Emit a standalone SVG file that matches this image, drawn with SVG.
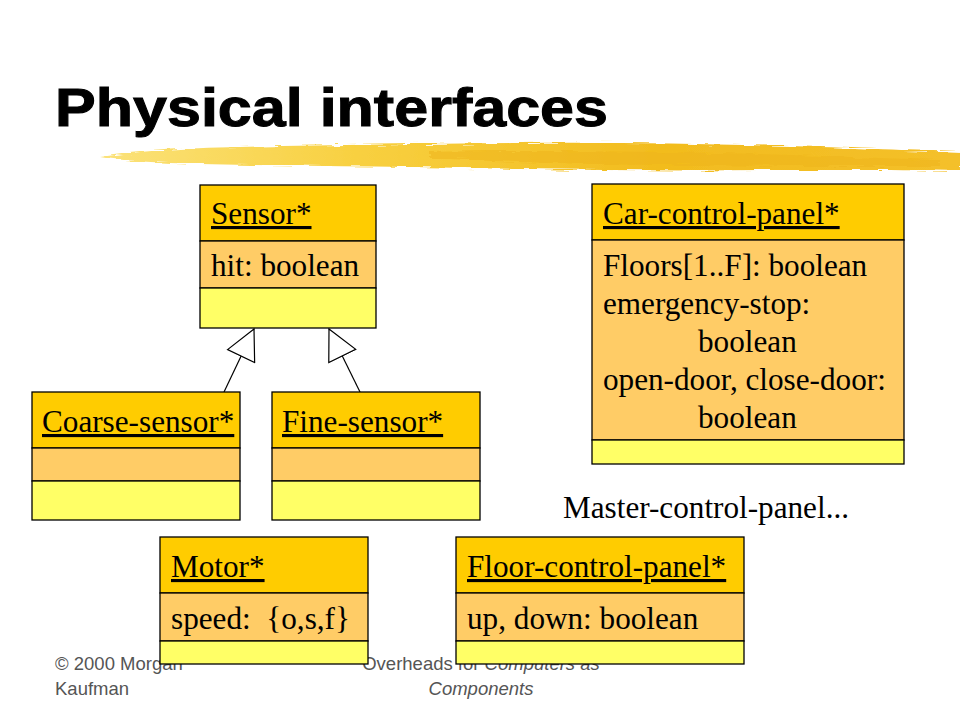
<svg xmlns="http://www.w3.org/2000/svg" width="960" height="720" viewBox="0 0 960 720">
<defs>
<style>
.hd{fill:#FFCC00;stroke:#000;stroke-width:1.3}
.at{fill:#FFCC66;stroke:#000;stroke-width:1.3}
.op{fill:#FFFF66;stroke:#000;stroke-width:1.3}
.t{font-family:"Liberation Serif","Times New Roman",serif;font-size:31.2px;fill:#000}
.u{text-decoration:underline}
.ft{font-family:"Liberation Sans",Arial,sans-serif;font-size:18.5px;fill:#555}
.cn{fill:none;stroke:#000;stroke-width:1.2}
</style>
<linearGradient id="brush" x1="0" y1="0" x2="1" y2="0">
<stop offset="0" stop-color="#FBE27A"/>
<stop offset="0.3" stop-color="#F8D040"/>
<stop offset="0.65" stop-color="#F2BC1E"/>
<stop offset="1" stop-color="#F4C02A"/>
</linearGradient>
<filter id="rough" x="-2%" y="-50%" width="104%" height="200%">
<feTurbulence type="fractalNoise" baseFrequency="0.04 0.6" numOctaves="2" seed="3" result="n"/>
<feDisplacementMap in="SourceGraphic" in2="n" scale="6"/>
</filter>
<marker id="gen" markerUnits="userSpaceOnUse" markerWidth="32" markerHeight="32" viewBox="0 0 32 32" refX="31" refY="16" orient="auto">
<path d="M1,1 L31,16 L1,31 Z" fill="#fff" stroke="#000" stroke-width="1.2"/>
</marker>
</defs>
<rect width="960" height="720" fill="#fff"/>
<g id="title">
<text x="55" y="126" font-family="Liberation Sans,Arial,sans-serif" font-weight="bold" font-size="53" textLength="553" lengthAdjust="spacingAndGlyphs" stroke="#000" stroke-width="1">Physical interfaces</text>
<path filter="url(#rough)" fill="url(#brush)" d="M100,157 C140,151 180,148 240,147 C330,145 420,144 520,143 C620,142 720,144 820,147 C880,149 930,151 960,152 L960,171 C900,170 840,170 760,170 C680,171 600,170 520,169 C420,167 330,166 250,165 C180,164 130,162 100,157 Z"/>
<path filter="url(#rough)" fill="#EFB51A" opacity="0.55" d="M430,152 C520,150 640,151 760,154 C820,156 880,158 940,160 L940,166 C860,166 760,166 660,165 C580,164 500,162 430,158 Z"/>
</g>
<g id="footer">
<text class="ft" x="55" y="670">© 2000 Morgan</text>
<text class="ft" x="55" y="695">Kaufman</text>
<text class="ft" x="481" y="670" text-anchor="middle">Overheads for <tspan font-style="italic">Computers as</tspan></text>
<text class="ft" x="481" y="695" text-anchor="middle" font-style="italic">Components</text>
</g>
<g id="connectors">
<path class="cn" d="M224,392 L254,329" marker-end="url(#gen)"/>
<path class="cn" d="M360,392 L329,329" marker-end="url(#gen)"/>
</g>
<g id="sensor">
<rect class="hd" x="200" y="185" width="176" height="56"/>
<rect class="at" x="200" y="241" width="176" height="47"/>
<rect class="op" x="200" y="288" width="176" height="40"/>
<text class="t u" x="211" y="224">Sensor*</text>
<text class="t" x="211" y="276">hit: boolean</text>
</g>
<g id="coarse-sensor">
<rect class="hd" x="32" y="392" width="208" height="56"/>
<rect class="at" x="32" y="448" width="208" height="33"/>
<rect class="op" x="32" y="481" width="208" height="39"/>
<text class="t u" x="42" y="432">Coarse-sensor*</text>
</g>
<g id="fine-sensor">
<rect class="hd" x="272" y="392" width="208" height="56"/>
<rect class="at" x="272" y="448" width="208" height="33"/>
<rect class="op" x="272" y="481" width="208" height="39"/>
<text class="t u" x="282" y="432">Fine-sensor*</text>
</g>
<g id="car-control-panel">
<rect class="hd" x="592" y="184" width="312" height="56"/>
<rect class="at" x="592" y="240" width="312" height="200"/>
<rect class="op" x="592" y="440" width="312" height="24"/>
<text class="t u" x="603" y="224">Car-control-panel*</text>
<text class="t" x="603" y="276">Floors[1..F]: boolean</text>
<text class="t" x="603" y="314">emergency-stop:</text>
<text class="t" x="698" y="352">boolean</text>
<text class="t" x="603" y="390">open-door, close-door:</text>
<text class="t" x="698" y="428">boolean</text>
</g>
<g id="master-control-panel">
<text class="t" x="563" y="518">Master-control-panel...</text>
</g>
<g id="motor">
<rect class="hd" x="160" y="537" width="208" height="56"/>
<rect class="at" x="160" y="593" width="208" height="48"/>
<rect class="op" x="160" y="641" width="208" height="23"/>
<text class="t u" x="171" y="577">Motor*</text>
<text class="t" x="171" y="629" xml:space="preserve">speed:  {o,s,f}</text>
</g>
<g id="floor-control-panel">
<rect class="hd" x="456" y="537" width="288" height="56"/>
<rect class="at" x="456" y="593" width="288" height="48"/>
<rect class="op" x="456" y="641" width="288" height="23"/>
<text class="t u" x="467" y="577">Floor-control-panel*</text>
<text class="t" x="467" y="629">up, down: boolean</text>
</g>
</svg>
